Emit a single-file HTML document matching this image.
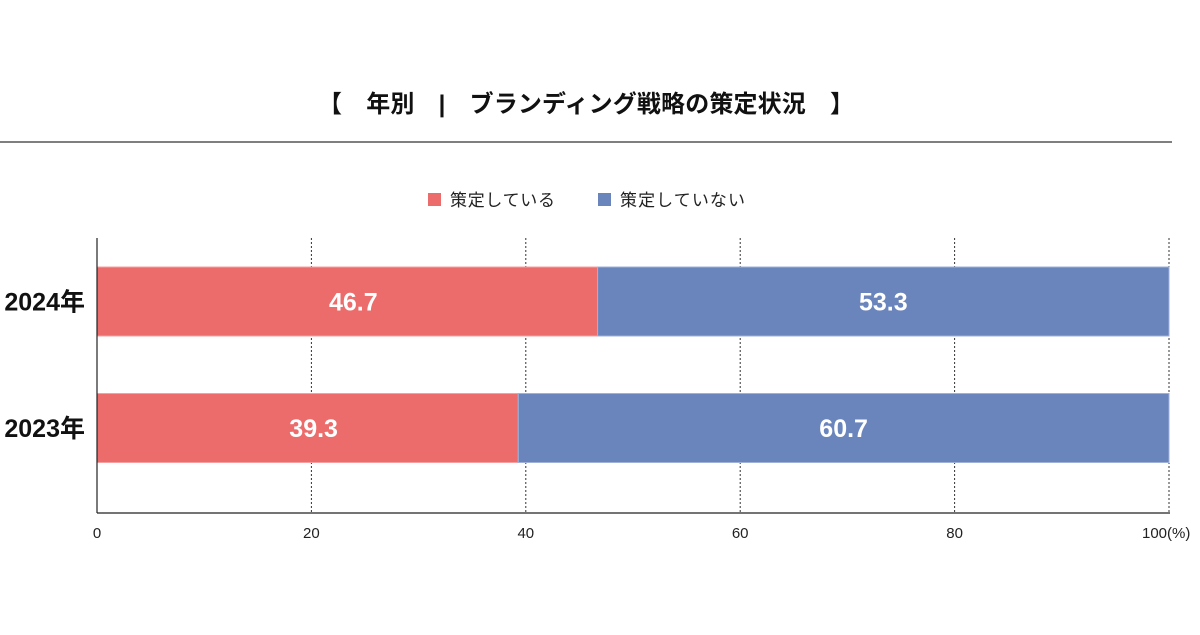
<!DOCTYPE html>
<html><head><meta charset="utf-8"><style>
body{margin:0;width:1200px;height:630px;background:#fff;overflow:hidden;font-family:"Liberation Sans","Noto Sans CJK JP",sans-serif}
</style></head><body>
<svg width="1200" height="630" xmlns="http://www.w3.org/2000/svg" font-family="Liberation Sans, Noto Sans CJK JP, sans-serif">
<text x="586" y="112" text-anchor="middle" font-size="24" font-weight="bold" fill="#111" textLength="536">【　年別　|　ブランディング戦略の策定状況　】</text>
<line x1="0" y1="142" x2="1172" y2="142" stroke="#333" stroke-width="1.2"/>
<g>
<rect x="428" y="193" width="13" height="13" fill="#ec6b6b"/>
<text x="450" y="206" font-size="17" fill="#222" textLength="105">策定している</text>
<rect x="598" y="193" width="13" height="13" fill="#6a84bc"/>
<text x="620" y="206" font-size="17" fill="#222" textLength="125">策定していない</text>
</g>
<g id="plot"></g>
</svg>
<script>
const categories=["2024年","2023年"];
const yesValues=[46.7,39.3];
const noValues=[53.3,60.7];
const tickValues=[0,20,40,60,80,100];
const tickLabels=["0","20","40","60","80","100(%)"];
const NS="http://www.w3.org/2000/svg";
const x=v=>97+v*(1169-97)/100;
const bandTop=i=>267+i*126.5;
const bh=69;
const g=document.getElementById('plot');
function mk(t,a,txt){const e=document.createElementNS(NS,t);for(const k in a)e.setAttribute(k,a[k]);if(txt!==undefined)e.textContent=txt;g.appendChild(e);return e;}
tickValues.forEach((v,i)=>{
 if(v>0){const l=mk('line',{x1:x(v),y1:238,x2:x(v),y2:513,stroke:'#333','stroke-width':1,'stroke-dasharray':'2,2'});
 
 }
 const last=i==tickValues.length-1;
 const t=mk('text',{x:last?x(v)-27:x(v),y:538,'text-anchor':last?'start':'middle','font-size':15,fill:'#222'},tickLabels[i]);
 
 
});
categories.forEach((c,i)=>{
 const y=bandTop(i);
 const r1=mk('rect',{x:x(0),y:y,width:x(yesValues[i])-x(0),height:bh,fill:'#ec6b6b',stroke:'#f4a0a0','stroke-width':1});
 
 
 const r2=mk('rect',{x:x(yesValues[i]),y:y,width:x(yesValues[i]+noValues[i])-x(yesValues[i]),height:bh,fill:'#6a84bc',stroke:'#9fb1d8','stroke-width':1});
 
 
 const t1=mk('text',{x:(x(0)+x(yesValues[i]))/2+6,y:y+bh/2+9,'text-anchor':'middle','font-size':25,'font-weight':'bold',fill:'#fff'},yesValues[i].toFixed(1));
 
 
 const t2=mk('text',{x:(x(yesValues[i])+x(100))/2,y:y+bh/2+9,'text-anchor':'middle','font-size':25,'font-weight':'bold',fill:'#fff'},noValues[i].toFixed(1));
 
 
 const cl=mk('text',{x:85,y:y+bh/2+9,'text-anchor':'end','font-size':25,'font-weight':'bold',fill:'#111'},c);
 
 
});
const ya=mk('line',{x1:97,y1:238,x2:97,y2:513,stroke:'#222','stroke-width':1.2});


const xa=mk('line',{x1:97,y1:513,x2:1170,y2:513,stroke:'#222','stroke-width':1.2});


</script>
</body></html>
